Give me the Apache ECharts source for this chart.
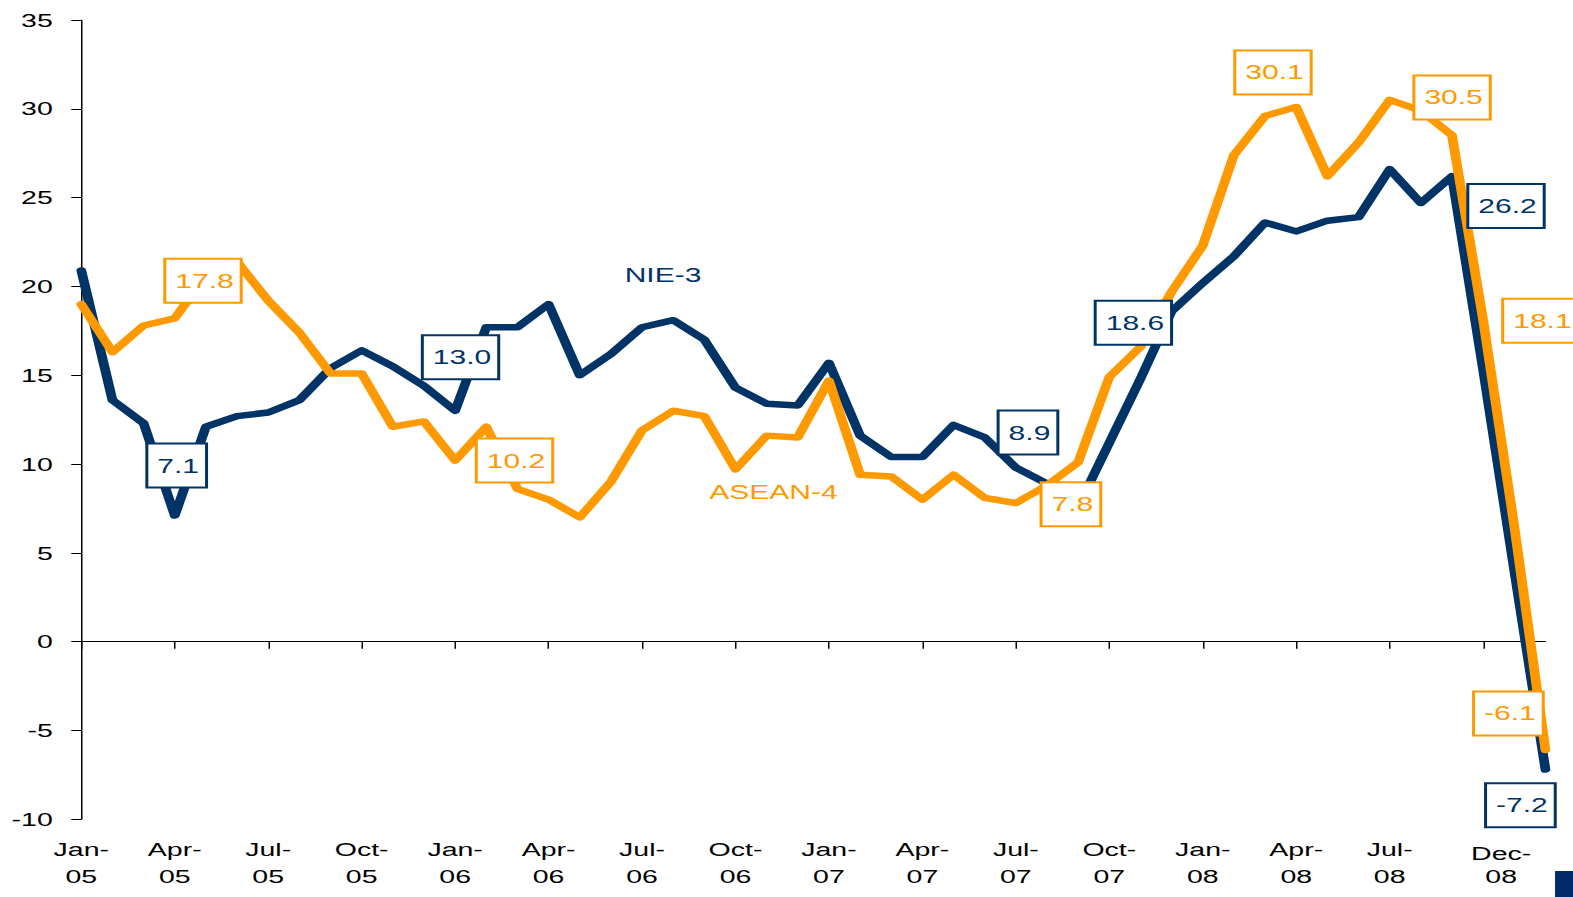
<!DOCTYPE html>
<html>
<head>
<meta charset="utf-8">
<title>NIE-3 vs ASEAN-4</title>
<script src="https://cdn.jsdelivr.net/npm/echarts@6.0.0/dist/echarts.min.js"></script>
<style>
  html, body { margin: 0; padding: 0; background: #fff; overflow: hidden; }
  /* the original slide is stretched sideways, so draw narrow and stretch */
  #chart { width: 1049px; height: 897px; transform: scaleX(1.5); transform-origin: 0 0; }
</style>
</head>
<body>
<div id="chart"></div>
<script>
const monthNames = ['Jan', 'Feb', 'Mar', 'Apr', 'May', 'Jun', 'Jul', 'Aug', 'Sep', 'Oct', 'Nov', 'Dec'];
const years = ['05', '06', '07', '08'];
const months = years.flatMap((y) => monthNames.map((m) => m + '-' + y));

// one label every third month, the last one reads Dec-08 in the original
const tickLabels = ['Jan-05', 'Apr-05', 'Jul-05', 'Oct-05', 'Jan-06', 'Apr-06', 'Jul-06', 'Oct-06',
  'Jan-07', 'Apr-07', 'Jul-07', 'Oct-07', 'Jan-08', 'Apr-08', 'Jul-08', 'Dec-08'];

const nie3 = [20.9, 13.6, 12.3, 7.1, 12.1, 12.7, 12.9, 13.6, 15.4, 16.4, 15.5, 14.4,
  13.0, 17.7, 17.7, 19.0, 15.0, 16.2, 17.7, 18.1, 17.0, 14.3, 13.4, 13.3,
  15.7, 11.6, 10.4, 10.4, 12.2, 11.5, 9.8, 8.9, 7.6, 11.2, 14.8, 18.6,
  20.2, 21.7, 23.6, 23.1, 23.7, 23.9, 26.6, 24.7, 26.2, 15.3, 4.0, -7.2];

const asean4 = [19.0, 16.3, 17.8, 18.2, 20.6, 21.4, 19.2, 17.4, 15.1, 15.1, 12.1, 12.4,
  10.2, 12.1, 8.6, 8.0, 7.0, 9.0, 11.9, 13.0, 12.7, 9.7, 11.6, 11.5,
  14.7, 9.4, 9.3, 8.0, 9.4, 8.1, 7.8, 8.8, 10.1, 14.9, 16.6, 19.7,
  22.3, 27.4, 29.6, 30.1, 26.2, 28.1, 30.5, 29.9, 28.5, 18.1, 6.5, -6.1];

const NAVY = '#003366';
const ORANGE = '#FF9900';
const FONT = 'Liberation Sans';

// where the boxed value labels sit, relative to their point
const nieLabelAt = { 3: [1.3, -50], 12: [3.6, -53.5], 31: [-12.7, -51], 35: [-25.5, 11.5], 44: [36, 29.6], 47: [-16.7, 35.8] };
const aseanLabelAt = { 2: [39.6, -44.7], 12: [39.6, 0], 30: [36.7, 1], 39: [-15.5, -34.6], 42: [41.6, -2.5], 45: [38.5, 0.6], 47: [-24.7, -36.6] };

function withLabels(values, where, color) {
  return values.map((v, i) => {
    if (!where[i]) return v;
    return {
      value: v,
      label: {
        show: true,
        position: 'inside',
        offset: where[i],
        formatter: (p) => p.value.toFixed(1),
        color: color,
        fontFamily: FONT,
        fontSize: 20,
        lineHeight: 22,
        backgroundColor: '#fff',
        borderColor: color,
        borderWidth: 2,
        padding: [9, 4, 11, 6],
      },
    };
  });
}

const chart = echarts.init(document.getElementById('chart'), null, { renderer: 'svg' });

chart.setOption({
  animation: false,
  backgroundColor: '#fff',
  grid: { left: 54.2, right: 18.7, top: 20, bottom: 77.7, containLabel: false, outerBoundsMode: 'none' },
  xAxis: {
    type: 'category',
    data: months,
    boundaryGap: false,
    axisLine: { onZero: true, lineStyle: { color: '#000', width: 1 } },
    axisTick: { interval: 2, length: 7, lineStyle: { color: '#000' } },
    axisLabel: {
      interval: 2,
      margin: 17,
      color: '#000',
      fontFamily: FONT,
      fontSize: 19,
      lineHeight: 27,
      formatter: (value, idx) => {
        const t = tickLabels[Math.round(idx / 3)];
        if (!t) return '';
        const parts = t.split('-');
        if (idx === 45) return '{d1|' + parts[0] + '-}\n{d2|' + parts[1] + '}';
        return parts[0] + '-\n' + parts[1];
      },
      rich: {
        d1: { fontFamily: FONT, fontSize: 19, lineHeight: 27, color: '#000', padding: [8, 0, 0, 24] },
        d2: { fontFamily: FONT, fontSize: 19, lineHeight: 27, color: '#000', padding: [0, 0, 0, 24] },
      },
    },
    splitLine: { show: false },
  },
  yAxis: {
    type: 'value',
    min: -10,
    max: 35,
    interval: 5,
    axisLine: { show: true, lineStyle: { color: '#000', width: 1 } },
    axisTick: { show: true, length: 6.7, lineStyle: { color: '#000' } },
    axisLabel: { margin: 19, color: '#000', fontFamily: FONT, fontSize: 19 },
    splitLine: { show: false },
  },
  series: [
    {
      name: 'NIE-3',
      type: 'line',
      data: withLabels(nie3, nieLabelAt, NAVY),
      symbol: 'circle',
      symbolSize: 0,
      showSymbol: true,
      clip: false,
      silent: true,
      lineStyle: { color: NAVY, width: 6.5, cap: 'round', join: 'round' },
      itemStyle: { color: NAVY },
    },
    {
      name: 'ASEAN-4',
      type: 'line',
      data: withLabels(asean4, aseanLabelAt, ORANGE),
      symbol: 'circle',
      symbolSize: 0,
      showSymbol: true,
      clip: false,
      silent: true,
      lineStyle: { color: ORANGE, width: 6.5, cap: 'round', join: 'round' },
      itemStyle: { color: ORANGE },
    },
  ],
  graphic: [
    {
      type: 'text', x: 442, y: 275,
      style: { text: 'NIE-3', fill: NAVY, font: '20px "Liberation Sans"', align: 'center', verticalAlign: 'middle' },
    },
    {
      type: 'text', x: 515.6, y: 492,
      style: { text: 'ASEAN-4', fill: ORANGE, font: '20px "Liberation Sans"', align: 'center', verticalAlign: 'middle' },
    },
    {
      type: 'rect', x: 1036.7, y: 871,
      shape: { width: 12.3, height: 26 },
      style: { fill: '#002A6C' },
    },
  ],
});
</script>
</body>
</html>
